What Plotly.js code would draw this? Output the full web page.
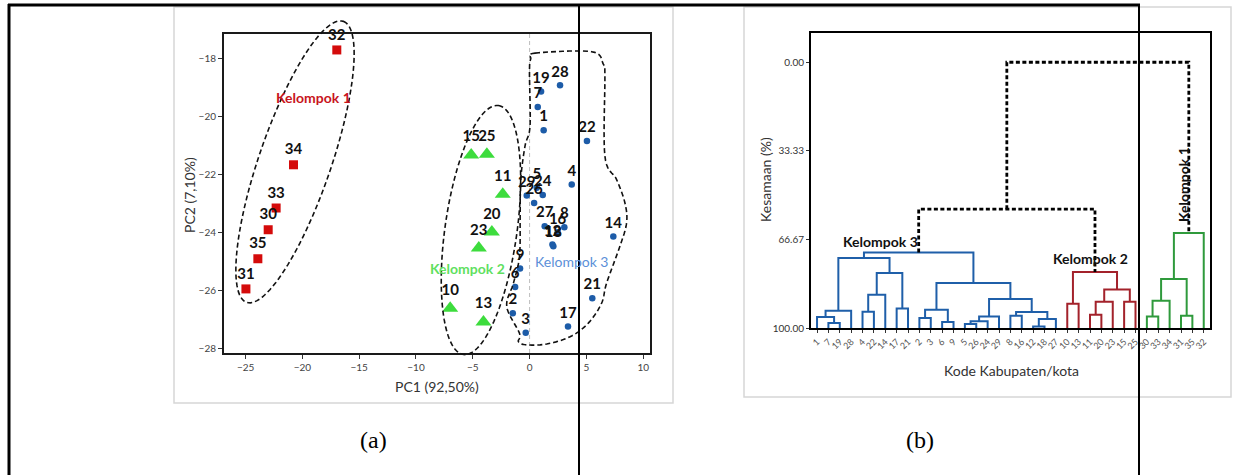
<!DOCTYPE html>
<html><head><meta charset="utf-8">
<script src="https://cdn.plot.ly/plotly-3.0.1.min.js"></script>
<style>html,body{margin:0;padding:0;background:#fff}#chart{width:1237px;height:475px}</style>
</head><body><div id="chart"></div>
<script>
// ---------- (a) PCA score plot data ----------
const k1Ids = ['32','34','33','30','35','31'];
const k1PC1 = [-16.97,-20.78,-22.31,-23.01,-23.92,-24.97];
const k1PC2 = [-17.71,-21.67,-23.16,-23.91,-24.91,-25.95];

const k2Ids = ['15','25','11','20','23','10','13'];
const k2PC1 = [-5.14,-3.76,-2.36,-3.32,-4.47,-6.99,-4.06];
const k2PC2 = [-21.33,-21.31,-22.69,-23.99,-24.54,-26.62,-27.09];

const k3Ids = ['19','28','7','1','22','4','29','24','5','26','27','8','16','12','18','9','6','2','3','17','21','14'];
const k3PC1 = [1.01,2.68,0.72,1.24,5.05,3.71,-0.25,1.16,0.63,0.40,1.33,3.06,2.47,2.01,2.09,-0.84,-1.27,-1.48,-0.34,3.38,5.52,7.37];
const k3PC2 = [-19.14,-18.93,-19.68,-20.48,-20.85,-22.35,-22.73,-22.71,-22.46,-22.99,-23.79,-23.82,-24.00,-24.42,-24.48,-25.25,-25.88,-26.79,-27.46,-27.25,-26.27,-24.14];

const pcXTicks = [-25,-20,-15,-10,-5,0,5,10];
const pcYTicks = [-28,-26,-24,-22,-20,-18];

// group outlines (data coords): ellipse centres, and outline vertices of group 3
const ellK1 = {cx:-20.65, cy:-21.57};
const ellK2 = {cx:-4.28, cy:-23.92};
const k3OutlinePC1 = [0.48,5.46,6.49,6.63,6.63,7.66,8.39,8.54,7.95,6.78,6.34,5.17,3.56,1.51,-0.25,-0.98,-0.89,-2.01,-1.42,-0.89,-0.83,-0.78,-0.40,0.04,-0.01,0.10];
const k3OutlinePC2 = [-17.82,-17.77,-18.20,-18.60,-21.37,-22.18,-22.98,-23.67,-24.48,-25.75,-26.44,-27.13,-27.60,-27.85,-27.88,-27.77,-27.48,-26.56,-25.75,-24.83,-23.44,-22.18,-21.02,-20.33,-18.48,-18.02];

// ---------- (b) dendrogram data ----------
const leafOrder = ['1','7','19','28','4','22','14','17','21','2','3','6','9','5','26','24','29','8','16','12','18','27','10','13','11','20','23','15','25','30','33','34','31','35','32'];
const mergeLeft  = ['7','1','m1','4','m3','17','m4','m2','2','6','m8','5','m11','m12','8','12','m15','m14','m13','m10','m7','10','11','m22','15','m23','m21','30','m27','31','m28','m30','m20','m32'];
const mergeRight = ['19','m0','28','22','14','21','m5','m6','3','9','m9','26','24','29','16','18','27','m16','m17','m18','m19','13','20','23','25','m24','m25','33','34','35','m29','32','m26','m31'];
const mergeSim   = [98.1,95.9,93.5,93.9,87.5,92.7,79.3,73.7,96.2,97.7,93.1,98.5,97.5,95.7,95.4,99.4,96.6,94.0,89.1,83.1,71.6,90.9,95.0,90.1,90.1,85.5,78.9,95.7,89.7,95.4,81.6,64.3,55.3,0.0];
const mergeGroup = ['k3','k3','k3','k3','k3','k3','k3','k3','k3','k3','k3','k3','k3','k3','k3','k3','k3','k3','k3','k3','k3','k2','k2','k2','k2','k2','k2','k1','k1','k1','k1','k1','link','link'];
const simTicks = [0,33.33,66.67,100];
const simTickText = ['0.00','33.33','66.67','100.00'];

// ---------- layout geometry ----------
const W = 1237, H = 475;
const px = v => v / W, py = v => 1 - v / H;
const xDom1 = [px(224), px(650)], yDom1 = [py(353), py(34)];
const xDom2 = [px(811), px(1210)], yDom2 = [py(328), py(33)];
const xRange1 = [-26.9, 10.6], yRange1 = [-28.16, -17.16];
const xRange2 = [-0.53, 34.55], yRange2 = [100, -11];

const plotW1 = (xDom1[1]-xDom1[0])*W, plotH1 = (yDom1[1]-yDom1[0])*H;
const ppx = plotW1/(xRange1[1]-xRange1[0]), ppy = plotH1/(yRange1[1]-yRange1[0]);
const toPaperX = x => xDom1[0] + (x - xRange1[0])/(xRange1[1]-xRange1[0])*(xDom1[1]-xDom1[0]);
const toPaperY = y => yDom1[0] + (y - yRange1[0])/(yRange1[1]-yRange1[0])*(yDom1[1]-yDom1[0]);

function ellipsePath(c, a, b, phiDeg) {
  const phi = phiDeg*Math.PI/180; let d = '';
  for (let i = 0; i <= 120; i++) {
    const t = i/120*2*Math.PI, u = a*Math.cos(t), v = b*Math.sin(t);
    const dx = u*Math.sin(phi) + v*Math.cos(phi);
    const dy = u*Math.cos(phi) - v*Math.sin(phi);
    const X = toPaperX(c.cx + dx/ppx), Y = toPaperY(c.cy + dy/ppy);
    d += (i ? ' L ' : 'M ') + X.toFixed(5) + ',' + Y.toFixed(5);
  }
  return d + ' Z';
}
function closedSplinePath(xs, ys) {
  const n = xs.length, P = xs.map((x,i)=>[toPaperX(x), toPaperY(ys[i])]);
  let d = 'M ' + P[0][0].toFixed(5) + ',' + P[0][1].toFixed(5);
  for (let i = 0; i < n; i++) {
    const p0 = P[(i-1+n)%n], p1 = P[i], p2 = P[(i+1)%n], p3 = P[(i+2)%n];
    for (let s = 1; s <= 10; s++) {
      const t = s/10, t2 = t*t, t3 = t2*t;
      const f = k => 0.5*((2*p1[k]) + (-p0[k]+p2[k])*t + (2*p0[k]-5*p1[k]+4*p2[k]-p3[k])*t2 + (-p0[k]+3*p1[k]-3*p2[k]+p3[k])*t3);
      d += ' L ' + f(0).toFixed(5) + ',' + f(1).toFixed(5);
    }
  }
  return d + ' Z';
}

// ---------- traces ----------
const labelFont = {family:'Lato, Arial, sans-serif', size:15, color:'#111', weight:'bold'};
const traces = [
  {type:'scatter', mode:'markers+text', x:k1PC1, y:k1PC2, text:k1Ids, textposition:'top center', cliponaxis:false,
   marker:{symbol:'square', size:9, color:'#d40b0b'}, textfont:labelFont, xaxis:'x', yaxis:'y', hoverinfo:'skip'},
  {type:'scatter', mode:'markers+text', x:k2PC1, y:k2PC2, text:k2Ids, textposition:'top center', cliponaxis:false,
   marker:{symbol:'triangle-up', size:14, color:'#3ddc3d'}, textfont:labelFont, xaxis:'x', yaxis:'y', hoverinfo:'skip'},
  {type:'scatter', mode:'markers+text', x:k3PC1, y:k3PC2, text:k3Ids, textposition:'top center', cliponaxis:false,
   marker:{symbol:'circle', size:6.5, color:'#1d5ca8'}, textfont:labelFont, xaxis:'x', yaxis:'y', hoverinfo:'skip'}
];

// dendrogram
const nodeX = {}, nodeY = {};
leafOrder.forEach((id,i)=>{ nodeX[id] = i; nodeY[id] = 100; });
const segs = {k3:{x:[],y:[]}, k2:{x:[],y:[]}, k1:{x:[],y:[]}, link:{x:[],y:[]}};
mergeLeft.forEach((l,i)=>{
  const r = mergeRight[i], h = mergeSim[i], s = segs[mergeGroup[i]];
  s.x.push(nodeX[l], nodeX[l], nodeX[r], nodeX[r], null);
  s.y.push(nodeY[l], h, h, nodeY[r], null);
  nodeX['m'+i] = (nodeX[l]+nodeX[r])/2; nodeY['m'+i] = h;
});
const dStyle = {k3:{color:'#1f5fa9', width:2}, k2:{color:'#a3222b', width:2}, k1:{color:'#2f9a3c', width:2}, link:{color:'#000', width:2.8, dash:'4px,2.5px'}};
['k3','k2','k1','link'].forEach(g=>{
  traces.push({type:'scatter', mode:'lines', x:segs[g].x, y:segs[g].y, line:dStyle[g], xaxis:'x2', yaxis:'y2', hoverinfo:'skip', cliponaxis:false});
});

// ---------- shapes ----------
const shapes = [
  {type:'rect', xref:'paper', yref:'paper', x0:px(174), x1:px(673), y0:py(403), y1:py(7), line:{color:'#d6d6d6', width:1.5}, layer:'below'},
  {type:'rect', xref:'paper', yref:'paper', x0:px(744), x1:px(1231), y0:py(397), y1:py(7), line:{color:'#d6d6d6', width:1.5}, layer:'below'},
  {type:'line', xref:'x', yref:'paper', x0:0, x1:0, y0:yDom1[0], y1:yDom1[1], line:{color:'#bdbdbd', width:1, dash:'4px,3px'}, layer:'below'},
  {type:'path', xref:'paper', yref:'paper', path:ellipsePath(ellK1, 148.6, 36, 19), line:{color:'#111', width:1.6, dash:'5px,3px'}},
  {type:'path', xref:'paper', yref:'paper', path:ellipsePath(ellK2, 125.7, 36, 8), line:{color:'#111', width:1.6, dash:'5px,3px'}},
  {type:'path', xref:'paper', yref:'paper', path:closedSplinePath(k3OutlinePC1, k3OutlinePC2), line:{color:'#111', width:1.6, dash:'5px,3px'}},
  {type:'line', xref:'paper', yref:'paper', x0:px(8), x1:px(1140), y0:py(5), y1:py(5), line:{color:'#000', width:3}},
  {type:'line', xref:'paper', yref:'paper', x0:px(9), x1:px(9), y0:py(4), y1:0, line:{color:'#000', width:3}},
  {type:'line', xref:'paper', yref:'paper', x0:px(579), x1:px(579), y0:py(5), y1:0, line:{color:'#000', width:2}},
  {type:'line', xref:'paper', yref:'paper', x0:px(1139), x1:px(1139), y0:py(5), y1:0, line:{color:'#000', width:2}}
];

// ---------- annotations ----------
const axTitleFont = {family:'Lato, Arial, sans-serif', size:14, color:'#333'};
const C = {showarrow:false, xanchor:'center', yanchor:'middle'};
const annotations = [
  Object.assign({xref:'paper', yref:'paper', x:px(437), y:py(386), text:'PC1 (92,50%)', font:axTitleFont}, C),
  Object.assign({xref:'paper', yref:'paper', x:px(190), y:py(195), text:'PC2 (7,10%)', textangle:-90, font:axTitleFont}, C),
  Object.assign({xref:'x', yref:'y', x:-19.0, y:-19.35, text:'Kelompok 1', font:{family:'Lato, Arial, sans-serif', size:14, color:'#c8141c', weight:'bold'}}, C),
  Object.assign({xref:'x', yref:'y', x:-5.43, y:-25.26, text:'Kelompok 2', font:{family:'Lato, Arial, sans-serif', size:14, color:'#5fe05f', weight:'bold'}}, C),
  Object.assign({xref:'x', yref:'y', x:3.71, y:-25.01, text:'Kelompok 3', font:{family:'Lato, Arial, sans-serif', size:14, color:'#5b90d8'}}, C),
  Object.assign({xref:'paper', yref:'paper', x:px(1011), y:py(370), text:'Kode Kabupaten/kota', font:axTitleFont}, C),
  Object.assign({xref:'paper', yref:'paper', x:px(765), y:py(180), text:'Kesamaan (%)', textangle:-90, font:axTitleFont}, C),
  Object.assign({xref:'x2', yref:'y2', x:5.54, y:67.4, text:'Kelompok 3', font:{family:'Lato, Arial, sans-serif', size:14, color:'#111', weight:'bold'}}, C),
  Object.assign({xref:'x2', yref:'y2', x:24.0, y:73.9, text:'Kelompok 2', font:{family:'Lato, Arial, sans-serif', size:14, color:'#111', weight:'bold'}}, C),
  Object.assign({xref:'x2', yref:'y2', x:32.2, y:46.1, text:'Kelompok 1', textangle:-90, font:{family:'Lato, Arial, sans-serif', size:14, color:'#111', weight:'bold'}}, C),
  Object.assign({xref:'paper', yref:'paper', x:px(373), y:py(440), text:'(a)', font:{family:'Liberation Serif, Times New Roman, serif', size:24, color:'#000'}}, C),
  Object.assign({xref:'paper', yref:'paper', x:px(920), y:py(440), text:'(b)', font:{family:'Liberation Serif, Times New Roman, serif', size:24, color:'#000'}}, C)
];

const tickFont = {family:'Lato, Arial, sans-serif', size:10, color:'#444'};
const layout = {
  width:W, height:H, margin:{l:0,r:0,t:0,b:0}, showlegend:false,
  paper_bgcolor:'#fff', plot_bgcolor:'rgba(0,0,0,0)',
  xaxis:{domain:xDom1, range:xRange1, tickvals:pcXTicks, ticks:'outside', ticklen:4, tickcolor:'#333', tickfont:tickFont,
         showgrid:false, zeroline:false, showline:true, mirror:true, linecolor:'#1a1a1a', linewidth:2, anchor:'y'},
  yaxis:{domain:yDom1, range:yRange1, tickvals:pcYTicks, ticks:'outside', ticklen:4, tickcolor:'#333', tickfont:tickFont,
         showgrid:false, zeroline:false, showline:true, mirror:true, linecolor:'#1a1a1a', linewidth:2, anchor:'x'},
  xaxis2:{domain:xDom2, range:xRange2, tickvals:leafOrder.map((_,i)=>i), ticktext:leafOrder, tickangle:-45, ticks:'outside', ticklen:3,
          tickcolor:'#333', tickfont:{family:'Lato, Arial, sans-serif', size:9, color:'#555'},
          showgrid:false, zeroline:false, showline:true, mirror:true, linecolor:'#000', linewidth:2, anchor:'y2'},
  yaxis2:{domain:yDom2, range:yRange2, tickvals:simTicks, ticktext:simTickText, ticks:'outside', ticklen:3, tickcolor:'#333',
          tickfont:{family:'Lato, Arial, sans-serif', size:10, color:'#333'},
          showgrid:false, zeroline:false, showline:true, mirror:true, linecolor:'#000', linewidth:2, anchor:'x2'},
  shapes:shapes, annotations:annotations
};
Plotly.newPlot('chart', traces, layout, {staticPlot:true, displayModeBar:false});
</script>
</body></html>
